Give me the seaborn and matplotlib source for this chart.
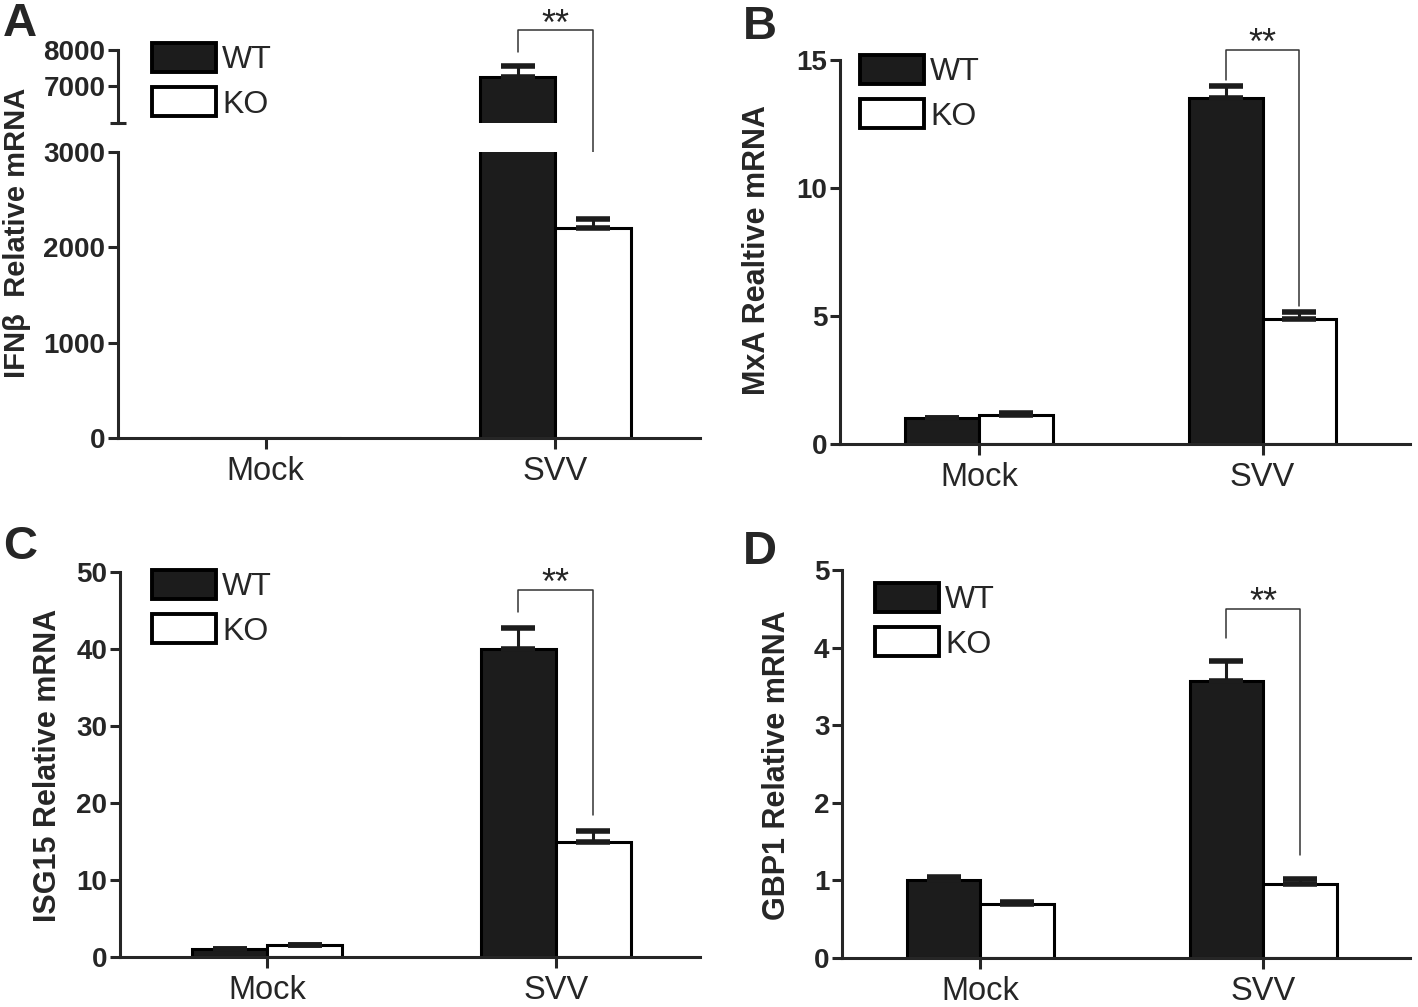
import numpy as np
import pandas as pd
import matplotlib
matplotlib.use("Agg")
import matplotlib.pyplot as plt
from matplotlib.patches import Patch
from matplotlib.ticker import FixedLocator
import seaborn as sns

sns.set_style("ticks")
plt.rcParams['font.family'] = ['Liberation Sans', 'DejaVu Sans']

# --------------------- Data ---------------------
groups = ['Mock', 'SVV']
genotypes = ['WT', 'KO']

ifnb_wt = [1.0, 7250]
ifnb_wt_err = [0.0, 300]
ifnb_ko = [1.0, 2200]
ifnb_ko_err = [0.0, 100]

mxa_wt = [1.0, 13.5]
mxa_wt_err = [0.03, 0.5]
mxa_ko = [1.15, 4.9]
mxa_ko_err = [0.07, 0.25]

isg15_wt = [1.0, 40.0]
isg15_wt_err = [0.1, 2.7]
isg15_ko = [1.5, 15.0]
isg15_ko_err = [0.1, 1.3]

gbp1_wt = [1.0, 3.57]
gbp1_wt_err = [0.04, 0.26]
gbp1_ko = [0.69, 0.96]
gbp1_ko_err = [0.03, 0.06]

ylabels = ['IFNβ  Relative mRNA', 'MxA Realtive mRNA',
           'ISG15 Relative mRNA', 'GBP1 Relative mRNA']

# bracket (top, WT leg end, KO leg end) in data units
brackets = [(8540, 7950, 4300), (15.4, 14.2, 5.4),
            (47.7, 44.8, 18.4), (4.50, 4.12, 1.33)]

palette = {'WT': '#1c1c1c', 'KO': 'white'}
W, H = 1418, 1007


def make_df(wt, ko, wt_err, ko_err):
    return pd.DataFrame({
        'group': groups * 2,
        'genotype': ['WT'] * 2 + ['KO'] * 2,
        'value': list(wt) + list(ko),
        'err': list(wt_err) + list(ko_err),
    })


def px_axes(fig, left, right, top, bottom):
    return fig.add_axes([left / W, 1 - bottom / H, (right - left) / W, (bottom - top) / H])


def draw_bars(ax, df):
    sns.barplot(data=df, x='group', y='value', hue='genotype', order=groups,
                hue_order=genotypes, palette=palette, edgecolor='black',
                linewidth=2.2, width=0.52, gap=0, errorbar=None, legend=False, ax=ax)
    # upper-only error bars at bar centres
    for patch, (_, row) in zip(ax.patches, df.iterrows()):
        if row['err'] <= 0:
            continue
        xc = patch.get_x() + patch.get_width() / 2
        ax.errorbar(xc, row['value'], yerr=[[0], [row['err']]], fmt='none',
                    ecolor='#1c1c1c', elinewidth=2.2, capsize=12.5, capthick=4, zorder=1)
    return [p.get_x() + p.get_width() / 2 for p in ax.patches]


def style_axes(ax, xlim, xaxis=True):
    sns.despine(ax=ax)
    for s in ['left', 'bottom']:
        ax.spines[s].set_linewidth(2.2)
    ax.set_xlim(*xlim)
    ax.set_xlabel('')
    ax.set_ylabel('')
    ax.tick_params(axis='y', direction='out', length=7, width=2.2, labelsize=20, pad=2)
    ax.tick_params(axis='x', direction='out', length=8, width=2.2, labelsize=23.5, pad=5)
    for lab in ax.get_yticklabels():
        lab.set_fontweight('bold')
    if not xaxis:
        ax.spines['bottom'].set_visible(False)
        ax.tick_params(axis='x', bottom=False, labelbottom=False)


def draw_bracket(ax, centers, br):
    top, wt_end, ko_end = br
    x_wt, x_ko = centers[1], centers[3]
    ax.plot([x_wt, x_wt, x_ko, x_ko], [wt_end, top, top, ko_end], color='#333333',
            lw=1.1, clip_on=False, zorder=5)
    ax.annotate('**', xy=((x_wt + x_ko) / 2, top), xytext=(0, -9), textcoords='offset points',
                ha='center', va='bottom', fontsize=26, annotation_clip=False)


def add_legend(fig, x, y):
    handles = [Patch(facecolor=palette[g], edgecolor='black', linewidth=2.8, label=g)
               for g in genotypes]
    fig.legend(handles=handles, loc='upper left', bbox_to_anchor=(x / W, 1 - y / H),
               frameon=False, fontsize=23, handlelength=2.0, handleheight=1.0,
               handletextpad=0.2, labelspacing=0.38, borderpad=0, borderaxespad=0)


fig = plt.figure(figsize=(W / 100, H / 100), dpi=100)

# --------------------- Panel A (broken axis) ---------------------
dfA = make_df(ifnb_wt, ifnb_ko, ifnb_wt_err, ifnb_ko_err)
axA_top = px_axes(fig, 118, 700, 50, 123)
axA = px_axes(fig, 118, 700, 152, 438)
draw_bars(axA_top, dfA)
centersA = draw_bars(axA, dfA)
axA.set_ylim(0, 3000)
axA.set_yticks([0, 1000, 2000, 3000])
axA_top.set_ylim(6000, 8000)
axA_top.set_yticks([7000, 8000])
axA_top.yaxis.set_minor_locator(FixedLocator([6000]))
axA.yaxis.set_minor_locator(FixedLocator([3000]))
style_axes(axA, (-0.51, 1.5))
style_axes(axA_top, (-0.51, 1.5), xaxis=False)
for a in (axA, axA_top):
    a.tick_params(axis='y', which='minor', direction='in', length=7, width=2.2)
axA_top.tick_params(axis='y', which='minor', direction='inout', length=12)
draw_bracket(axA_top, centersA, brackets[0])
add_legend(fig, 152, 43)

# --------------------- Panels B, C, D ---------------------
specs = [
    (make_df(mxa_wt, mxa_ko, mxa_wt_err, mxa_ko_err), (840, 1410, 60, 444), (0, 15), [0, 5, 10, 15], (860, 55), (-0.49, 1.52)),
    (make_df(isg15_wt, isg15_ko, isg15_wt_err, isg15_ko_err), (120, 700, 572, 957), (0, 50), [0, 10, 20, 30, 40, 50], (152, 570), (-0.51, 1.5)),
    (make_df(gbp1_wt, gbp1_ko, gbp1_wt_err, gbp1_ko_err), (842, 1410, 570, 958), (0, 5), [0, 1, 2, 3, 4, 5], (875, 583), (-0.49, 1.52)),
]
for i, (df, box, ylim, yticks, leg, xlim) in enumerate(specs, start=1):
    ax = px_axes(fig, *box)
    centers = draw_bars(ax, df)
    ax.set_ylim(*ylim)
    ax.set_yticks(yticks)
    style_axes(ax, xlim)
    draw_bracket(ax, centers, brackets[i])
    add_legend(fig, *leg)

# --------------------- Labels ---------------------
for (x, y, fs), text in zip([(17, 233, 21), (757, 250, 22), (48, 765, 22), (777, 765, 22)], ylabels):
    fig.text(x / W, 1 - y / H, text, rotation=90, ha='center', va='center',
             fontsize=fs, fontweight='bold')

for (x, y), letter in zip([(3, 2), (743, 5), (3, 525), (743, 530)], 'ABCD'):
    fig.text(x / W, 1 - y / H, letter, ha='left', va='top', fontsize=34, fontweight='bold')

fig.savefig('out.png', dpi=100)
